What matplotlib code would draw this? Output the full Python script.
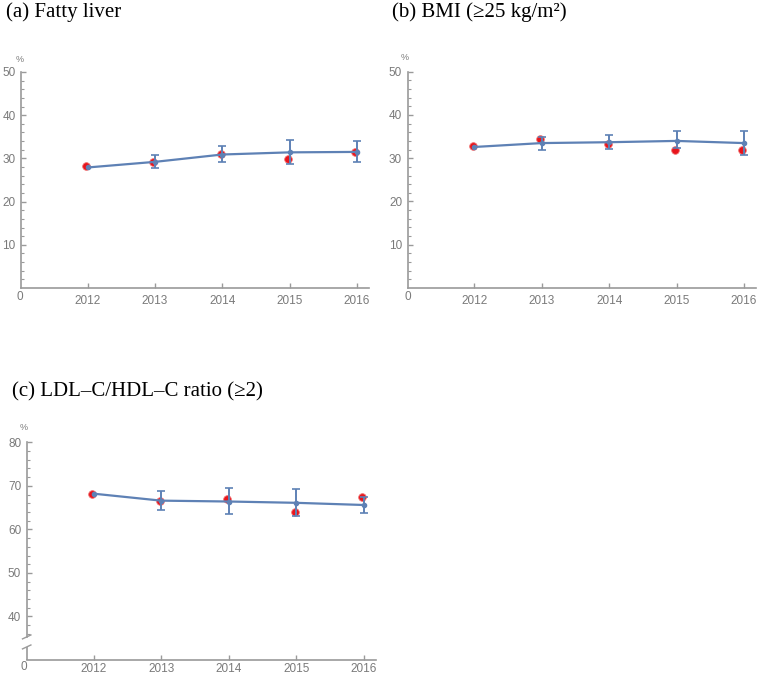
import numpy as np
import matplotlib
matplotlib.use("Agg")
import matplotlib.pyplot as plt
import matplotlib.transforms as mtransforms
from matplotlib.ticker import FixedLocator

# data
years = [2012, 2013, 2014, 2015, 2016]

fatty_fit = [27.9, 29.2, 30.9, 31.4, 31.5]
fatty_low = [np.nan, 27.8, 29.1, 28.7, 29.1]
fatty_high = [np.nan, 30.8, 32.8, 34.2, 34.0]
fatty_obs = [28.2, 29.2, 31.1, 29.8, 31.5]

bmi_fit = [32.6, 33.5, 33.7, 34.0, 33.5]
bmi_low = [np.nan, 31.9, 32.1, 32.4, 30.8]
bmi_high = [np.nan, 35.0, 35.3, 36.2, 36.2]
bmi_obs = [32.8, 34.4, 33.3, 32.0, 32.0]

ldl_fit = [68.2, 66.6, 66.4, 66.1, 65.6]
ldl_low = [np.nan, 64.4, 63.5, 63.0, 63.8]
ldl_high = [np.nan, 68.9, 69.4, 69.2, 67.5]
ldl_obs = [68.2, 66.5, 67.0, 64.1, 67.5]

titles = ["(a) Fatty liver", "(b) BMI (\u226525 kg/m\u00b2)", "(c) LDL\u2013C/HDL\u2013C ratio (\u22652)"]

W, H = 757, 676
BLUE = "#5E81B5"
RED = "#E8141C"
AXC = "#9a9a9a"
TXT = "#7a7a7a"


def box(left, top, right, bottom):
    return [left / W, 1 - bottom / H, (right - left) / W, (bottom - top) / H]


def px(x, y):
    return x / W, 1 - y / H


def draw_panel(ax, fit, low, high, obs, ylim, majors, minors, xpad=5):
    ax.set_xlim(2011.01, 2016.18)
    ax.set_ylim(*ylim)
    for s in ["top", "right"]:
        ax.spines[s].set_visible(False)
    for s in ["left", "bottom"]:
        ax.spines[s].set_color(AXC)
        ax.spines[s].set_linewidth(1.2)
    ax.set_xticks(years)
    ax.set_yticks(majors)
    ax.yaxis.set_minor_locator(FixedLocator(minors))
    ax.tick_params(axis="both", which="major", direction="in", length=3.5,
                   width=1, color=AXC, labelcolor=TXT, labelsize=8.5)
    ax.tick_params(axis="y", which="minor", direction="in", length=2,
                   width=0.8, color=AXC)
    ax.tick_params(axis="x", pad=xpad)
    ax.tick_params(axis="y", pad=4)
    for lab in ax.get_xticklabels() + ax.get_yticklabels():
        lab.set_fontfamily("Liberation Sans")

    fit = np.array(fit)
    low = np.array(low)
    high = np.array(high)
    yrs = np.array(years)
    shift = mtransforms.offset_copy(ax.transData, fig=ax.figure, x=-1.5, y=0, units="dots")
    ax.plot(yrs, obs, "o", color=RED, markersize=5.5, zorder=2, transform=shift,
            markeredgecolor="#f07070", markeredgewidth=0.6, clip_on=False)
    ax.plot(yrs, fit, "-o", color=BLUE, lw=1.6, markersize=3, zorder=3, clip_on=False)
    m = ~np.isnan(low)
    ax.errorbar(yrs[m], fit[m], yerr=[fit[m] - low[m], high[m] - fit[m]], fmt="none",
                ecolor=BLUE, elinewidth=1.4, capsize=3, capthick=1.2, zorder=3)


fig = plt.figure(figsize=(W / 100, H / 100), dpi=100)

ax_a = fig.add_axes(box(21, 72, 369, 288))
draw_panel(ax_a, fatty_fit, fatty_low, fatty_high, fatty_obs, (0, 50),
           [10, 20, 30, 40, 50], [v for v in range(2, 50, 2) if v % 10])

ax_b = fig.add_axes(box(407.7, 71.7, 756, 288))
draw_panel(ax_b, bmi_fit, bmi_low, bmi_high, bmi_obs, (0, 50),
           [10, 20, 30, 40, 50], [v for v in range(2, 50, 2) if v % 10])

ax_c = fig.add_axes(box(26.7, 442.3, 376, 660))
draw_panel(ax_c, ldl_fit, ldl_low, ldl_high, ldl_obs, (30, 80),
           [40, 50, 60, 70, 80], [v for v in range(36, 80, 2) if v % 10], xpad=2)

# axis break on panel (c)
ax_c.spines["left"].set_bounds(35.3, 80)
ax_c.plot([2011.01, 2011.01], [30, 33.0], color=AXC, lw=1.2, clip_on=False,
          solid_capstyle="butt")
trans = mtransforms.blended_transform_factory(ax_c.transAxes, ax_c.transData)
for yb in (33.0, 35.3):
    ax_c.plot([-0.012, 0.012], [yb - 0.45, yb + 0.45], color=AXC, lw=1.0,
              transform=trans, clip_on=False)

# percent labels and origin zeros
for (x, y) in [(20, 59), (405, 58), (24, 428)]:
    fig.text(*px(x, y), "%", fontsize=6.5, color=TXT, ha="center", va="center",
             family="Liberation Sans")
for (x, y) in [(20, 297), (408, 297), (24, 667)]:
    fig.text(*px(x, y), "0", fontsize=8.5, color=TXT, ha="center", va="center",
             family="Liberation Sans")

# panel titles
fig.text(*px(6, 17.5), titles[0], fontsize=15, family="Liberation Serif", va="baseline")
fig.text(*px(392.5, 17.5), titles[1], fontsize=15, family="Liberation Serif", va="baseline")
fig.text(*px(12, 396.5), titles[2], fontsize=15, family="Liberation Serif", va="baseline")

fig.savefig("out.png", dpi=100)
